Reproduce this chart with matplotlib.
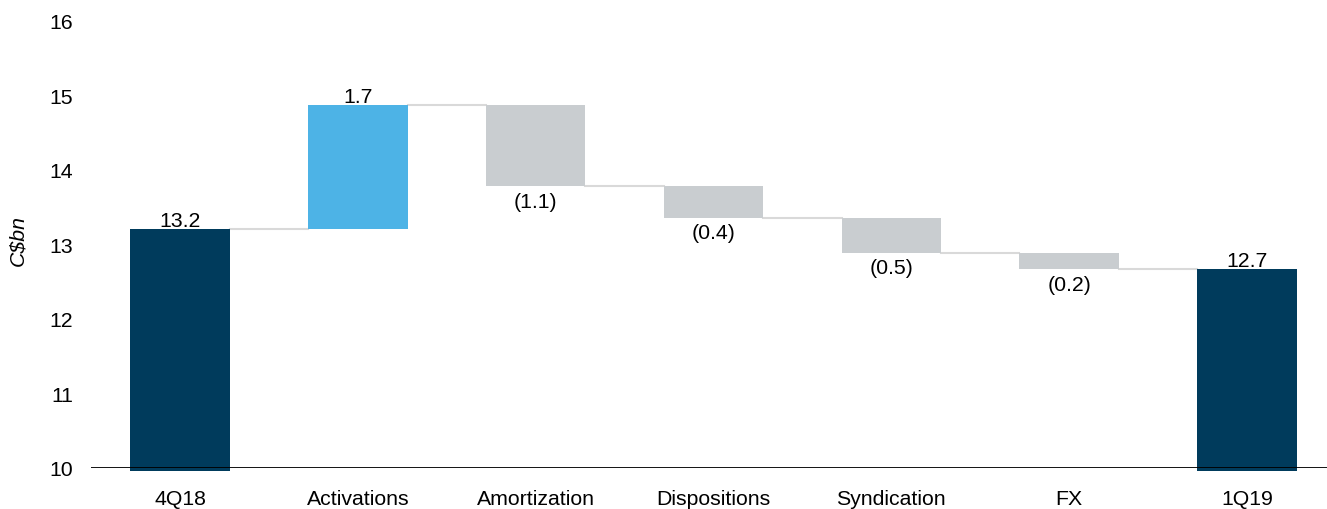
import matplotlib
matplotlib.use("Agg")
import matplotlib.pyplot as plt
import numpy as np

plt.rcParams["font.family"] = ["Liberation Sans", "DejaVu Sans"]

# data
categories = ["4Q18", "Activations", "Amortization", "Dispositions",
              "Syndication", "FX", "1Q19"]
start = 13.21
changes = [1.66, -1.09, -0.42, -0.47, -0.22]

navy = "#003B5C"
blue = "#4DB3E6"
grey = "#C9CDD0"
conn = "#D9D9D9"
fs = 15.3

# build waterfall
end = start + sum(changes)
levels = np.concatenate([[start], start + np.cumsum(changes)])
bottoms, heights, colors, labels = [], [], [], []

floor = 9.96
bottoms.append(floor)
heights.append(start - floor)
colors.append(navy)
labels.append(f"{start:.1f}")
for i, c in enumerate(changes):
    lo = min(levels[i], levels[i + 1])
    bottoms.append(lo)
    heights.append(abs(c))
    colors.append(blue if c > 0 else grey)
    labels.append(f"{c:.1f}" if c > 0 else f"({abs(c):.1f})")
bottoms.append(floor)
heights.append(end - floor)
colors.append(navy)
labels.append(f"{end:.1f}")

x = np.arange(len(categories))
w = 0.56

fig = plt.figure(figsize=(13.27, 5.10), dpi=100)
ax = fig.add_axes([0.0686, 0.0804, 0.9314, 0.8766])
ax.set_ylim(10, 16)
ax.set_xlim(-0.5, 6.45)

ax.bar(x, heights, w, bottom=bottoms, color=colors, zorder=2, clip_on=False)

# connectors: level after bar i joins bar i and bar i+1
for i in range(len(categories) - 1):
    ax.plot([x[i] + w / 2, x[i + 1] - w / 2], [levels[i]] * 2,
            color=conn, lw=1.5, zorder=1)

# value labels
for i in range(len(categories)):
    b, h = bottoms[i], heights[i]
    if i in (0, len(categories) - 1) or changes[i - 1] > 0:
        ax.annotate(labels[i], (x[i], b + h), xytext=(0, -0.5),
                    textcoords="offset points", ha="center", va="bottom", fontsize=fs)
    else:
        ax.annotate(labels[i], (x[i], b), xytext=(0, -4),
                    textcoords="offset points", ha="center", va="top", fontsize=fs)

ax.axhline(10, color="black", lw=1.3, zorder=3)
for s in ax.spines.values():
    s.set_visible(False)

ax.set_yticks(range(10, 17))
ax.set_xticks(x)
ax.set_xticklabels(categories)
ax.tick_params(axis="both", length=0, labelsize=fs)
ax.tick_params(axis="x", pad=15)
ax.tick_params(axis="y", pad=13)
ax.set_ylabel("C$bn", fontsize=fs, style="italic")
ax.yaxis.set_label_coords(-0.0515, 0.51)

fig.savefig("out.png", dpi=100)
